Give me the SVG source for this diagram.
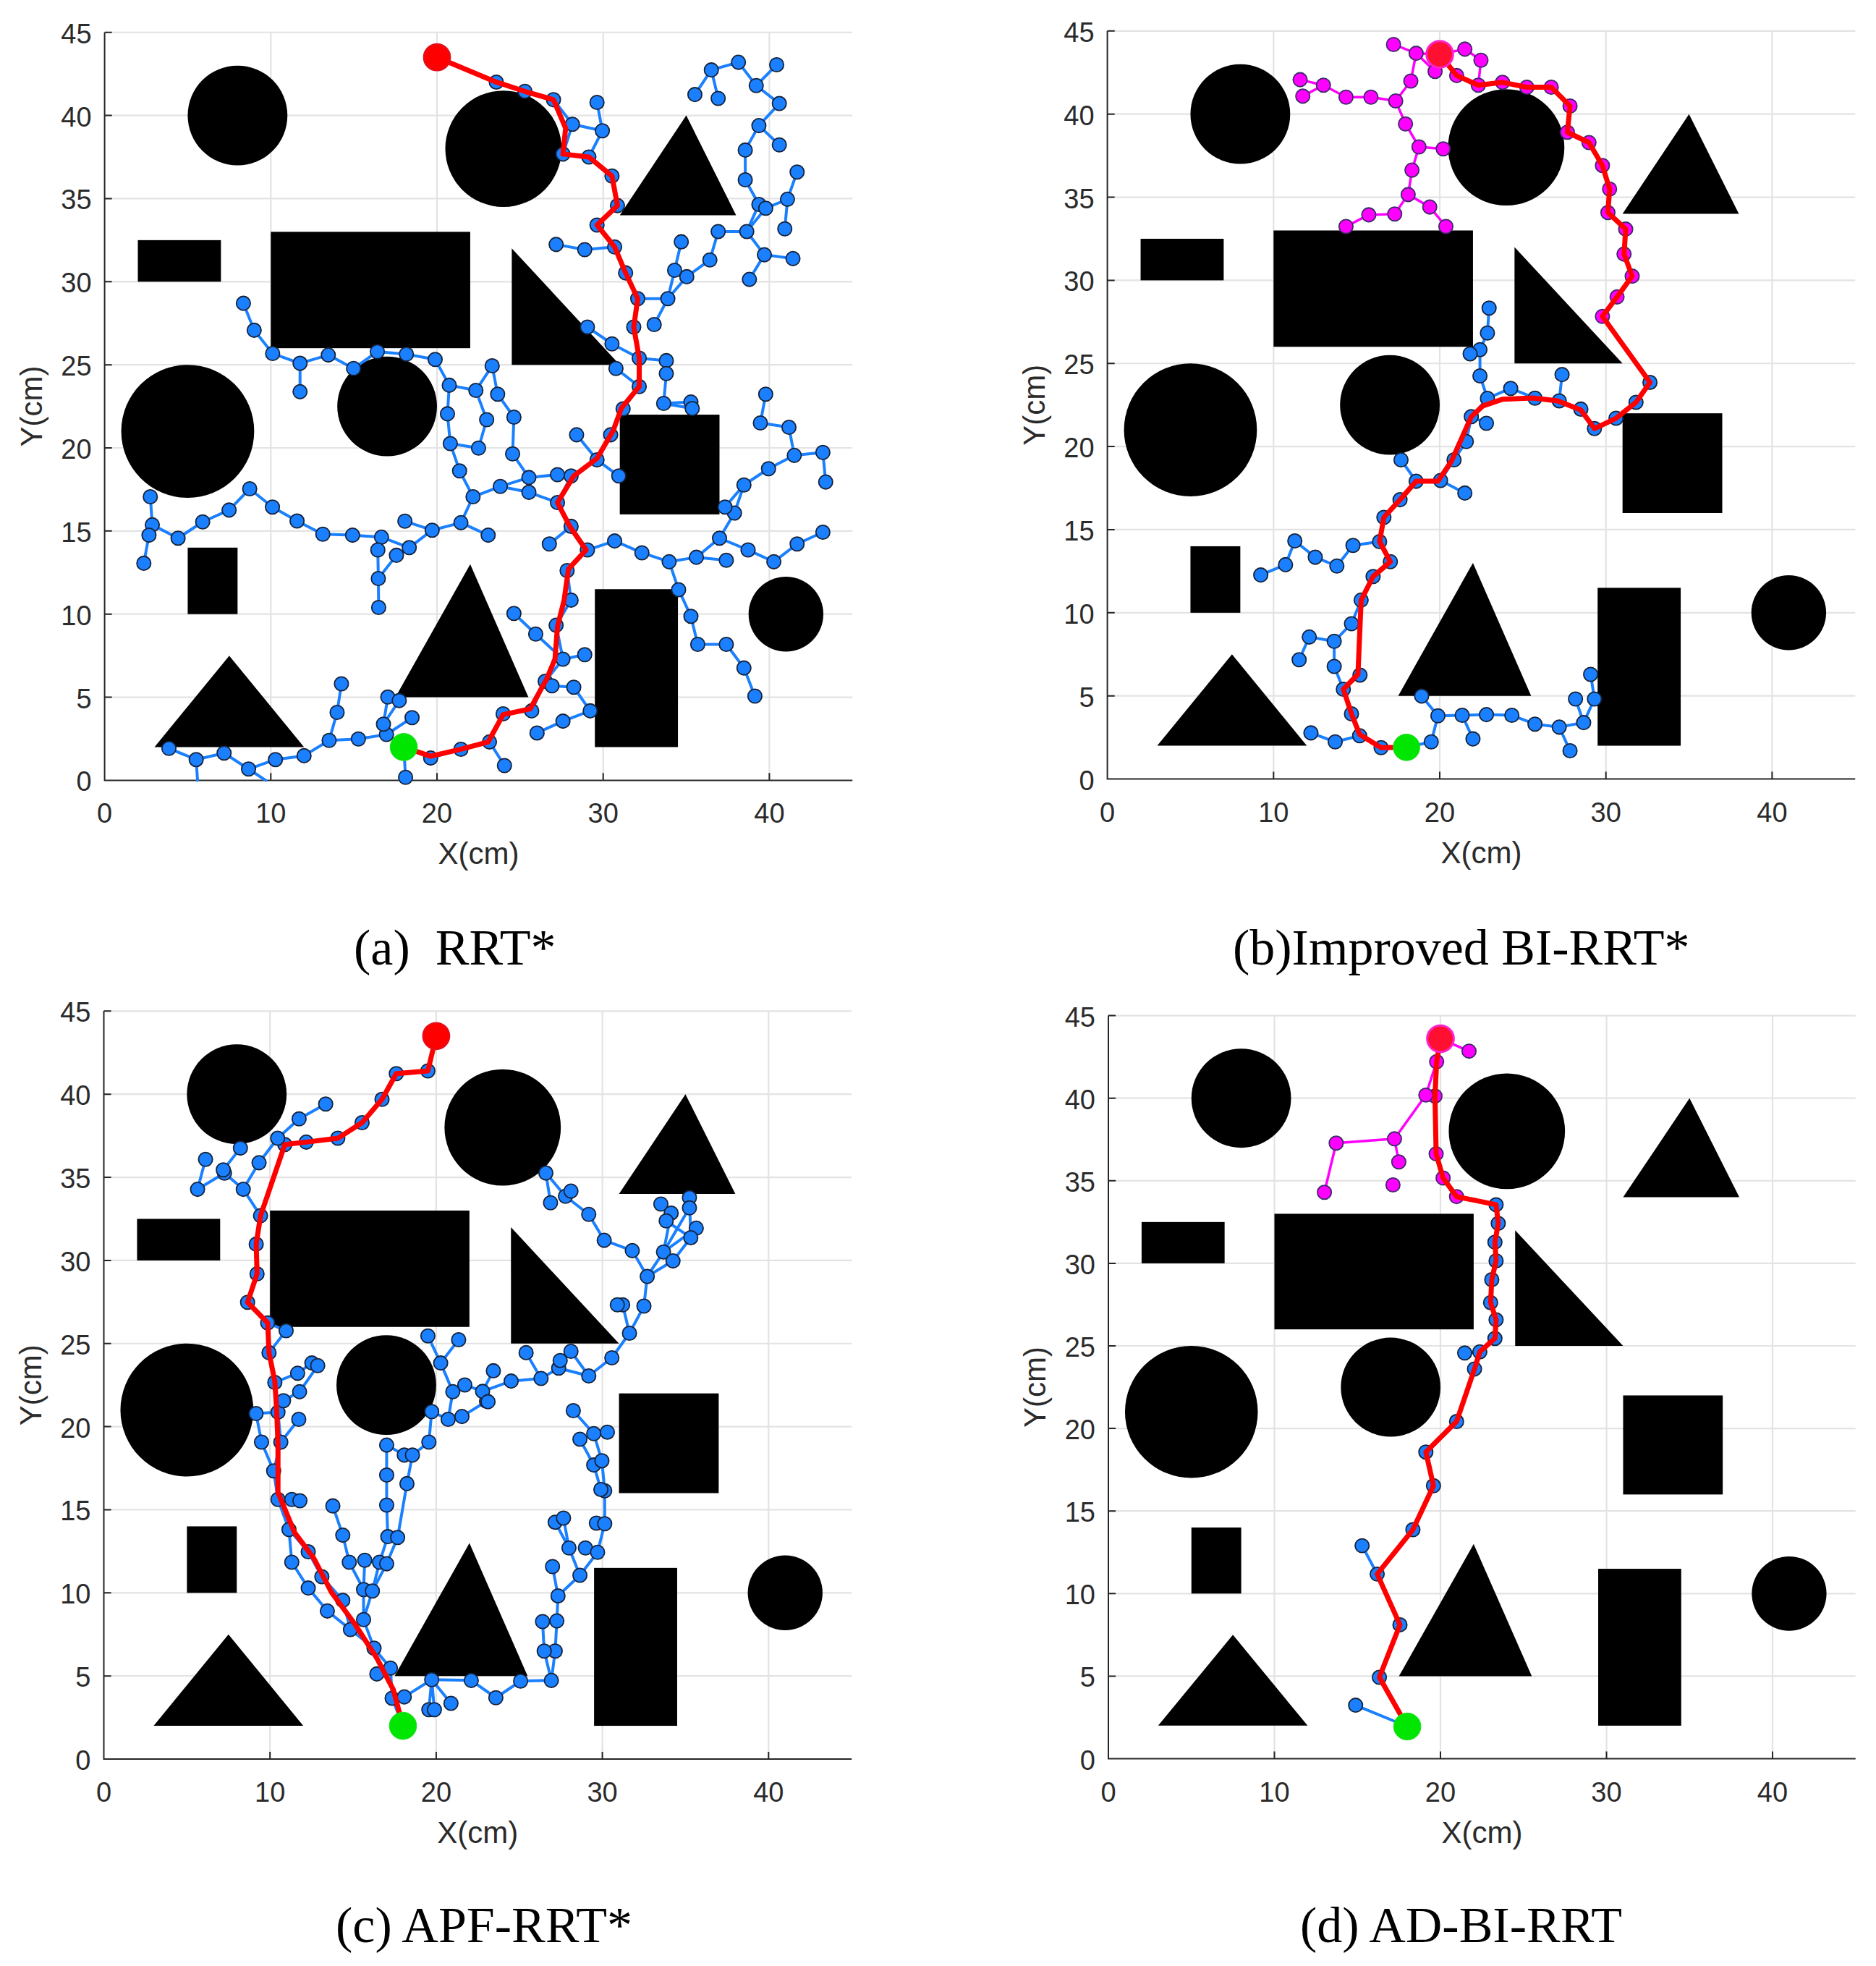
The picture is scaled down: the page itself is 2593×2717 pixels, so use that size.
<svg xmlns="http://www.w3.org/2000/svg" xmlns:xlink="http://www.w3.org/1999/xlink" width="2593" height="2717" viewBox="0 0 2593 2717">
<style>
.g{fill:none;stroke:#e3e3e3;stroke-width:2.2;vector-effect:non-scaling-stroke}
.a{fill:none;stroke:#262626;stroke-width:2;vector-effect:non-scaling-stroke}
.e{fill:none;stroke:#1a80ff;stroke-width:4;stroke-linejoin:round;stroke-linecap:round;vector-effect:non-scaling-stroke}
.em{fill:none;stroke:#ff00ff;stroke-width:3.5;stroke-linejoin:round;stroke-linecap:round;vector-effect:non-scaling-stroke}
.n circle{fill:#1a80ff;stroke:#15223a;stroke-width:1.8;vector-effect:non-scaling-stroke}
.m circle{fill:#ff00ff;stroke:#3d2a66;stroke-width:1.8;vector-effect:non-scaling-stroke}
.p{fill:none;stroke:#ff0000;stroke-width:7;stroke-linejoin:round;stroke-linecap:round;vector-effect:non-scaling-stroke}
.goal{fill:#ff0000;stroke:#e0101e;stroke-width:2;vector-effect:non-scaling-stroke}
.goal2{fill:#ff1030;stroke:#ff22cc;stroke-width:3;vector-effect:non-scaling-stroke}
.st{fill:#00e600;stroke:#22dd22;stroke-width:1;vector-effect:non-scaling-stroke}
.t{font-family:"Liberation Sans",Arial,Helvetica,sans-serif;font-size:38px;fill:#2b2b2b}
.yt{text-anchor:end}
.xt{text-anchor:middle}
.lab{font-family:"Liberation Sans",Arial,Helvetica,sans-serif;font-size:42px;fill:#2b2b2b;text-anchor:middle}
.cap{font-family:"Liberation Serif","Times New Roman",serif;font-size:70px;fill:#000}
</style>
<defs>
<g id="frame">
<path class="g" d="M10 0V45M20 0V45M30 0V45M40 0V45M0 5H45M0 10H45M0 15H45M0 20H45M0 25H45M0 30H45M0 35H45M0 40H45M0 45H45"/>
<path class="a" d="M0 45V0H45M0 5H.44M0 10H.44M0 15H.44M0 20H.44M0 25H.44M0 30H.44M0 35H.44M0 40H.44M0 45H.44M10 0V.44M20 0V.44M30 0V.44M40 0V.44"/>
</g>
<g id="obs" fill="#000">
<circle cx="8" cy="40" r="3"/>
<circle cx="24" cy="38" r="3.5"/>
<polygon points="31,34 38,34 35,40"/>
<rect x="2" y="30" width="5" height="2.5"/>
<rect x="10" y="26" width="12" height="7"/>
<polygon points="24.5,32 24.5,25 31,25"/>
<circle cx="5" cy="21" r="4"/>
<circle cx="17" cy="22.5" r="3"/>
<rect x="31" y="16" width="6" height="6"/>
<rect x="5" y="10" width="3" height="4"/>
<polygon points="3,2 12,2 7.5,7.5"/>
<polygon points="17.5,5 25.5,5 22,13"/>
<rect x="29.5" y="2" width="5" height="9.5"/>
<circle cx="41" cy="10" r="2.25"/>
</g>
</defs>
<rect width="2593" height="2717" fill="#fff"/>

<!-- ===== Plot (a) RRT* ===== -->
<g id="plot-a">
<g transform="translate(144.6,1078.4) scale(22.97,-22.97)">
<use href="#frame"/>
<use href="#obs"/>
<g id="a-edges">
<path class="e" d="M8.35 28.7L9 27.08L10.11 25.68L11.76 25.09L13.46 25.59L14.98 24.78L16.41 25.79L18.16 25.64L19.89 25.32L20.74 23.77L20.63 22.05L20.8 20.26L21.36 18.62L22.17 17.06L21.44 15.5L23.08 14.75
M11.76 25.09L11.76 23.38
M21.44 15.5L19.71 15.05L18.33 14L16.66 14.63L14.92 14.75L13.13 14.81L11.58 15.6L10.1 16.44L8.73 17.54L7.49 16.26L5.9 15.55L4.42 14.57L2.87 15.37L2.75 17.06
M2.87 15.37L2.67 14.75L2.36 13.06
M19.71 15.05L18.07 15.59
M18.33 14L17.56 13.54L16.47 12.14L16.49 10.4
M16.66 14.63L16.44 13.86L16.47 12.14
M3.87 1.92L5.51 1.25L7.19 1.64L8.66 .68L10.28 1.25L12 1.48L13.51 2.4L13.99 4.09L14.25 5.81
M5.51 1.25L5.59 0M8.66 .68L9.69 0
M13.51 2.4L15.27 2.49L16.96 2.76L16.78 3.38L17.04 5.01
M16.78 3.38L17.73 4.8M16.96 2.76L18.5 3.77M16.96 2.76L18 2L18.11 .18
M18 2L19.62 1.34L21.44 1.87L23.16 2.31L23.98 4L25.7 4.18L26.51 5.96L27.58 7.29L27.17 9.33L28.07 10.84L27.83 12.62L29.05 13.86L28.07 15.28L27.25 16.71L28.07 18.31L29.63 19.28L30.45 20.79L31.2 22.35L32.17 23.69L32.17 25.4L31.84 27.27L32.08 28.98L31.35 30.53L30.69 32.09L29.63 33.41L30.86 34.58L30.53 36.36L29.14 37.5L27.58 37.68L28.15 39.47L27.01 40.95L25.29 41.45L23.57 42.01
M23.16 2.31L24.06 .89
M28.15 39.47L29.95 39.08L29.63 40.79M29.95 39.08L29.14 37.5
M27.17 32.24L28.89 31.93L30.69 32.09
M32.08 28.98L33.89 28.98L34.3 30.69L34.7 32.4M33.89 28.98L33.07 27.42
M33.89 28.98L35.03 30.3L36.42 31.31L36.92 33.02L38.64 33.02L39.37 34.65L38.55 36.13L38.55 37.92L39.37 39.39L40.6 40.72L39.21 41.8L38.14 43.2L36.51 42.74L35.52 41.26
M36.51 42.74L36.92 41.03M39.21 41.8L40.44 43.05M39.37 39.39L40.6 38.23
M38.64 33.02L39.7 31.62L41.42 31.39M39.7 31.62L38.8 30.14
M38.64 33.02L39.78 34.42L41.09 34.96L41.67 36.6M41.09 34.96L40.93 33.18
M29.05 27.27L30.53 26.26L32.17 25.4L33.8 25.25L33.8 24.47L33.64 22.68L35.28 22.76M33.64 22.68L35.36 22.37
M30.77 24.78L32.17 23.69
M39.78 23.23L39.46 21.5L41.18 21.24L41.5 19.55L43.22 19.73L43.39 17.95
M41.5 19.55L39.95 18.75L38.47 17.77L37.9 16.08L37 14.57L35.61 13.42L33.97 13.15L32.33 13.69L30.69 14.4L29.05 13.86
M38.47 17.77L37.33 16.44M35.61 13.42L37.41 13.24
M37 14.57L38.72 13.86L40.27 13.15L41.67 14.22L43.22 14.93
M33.97 13.15L34.54 11.47L35.28 9.87L35.69 8.18L37.41 8.18L38.47 6.76L39.13 5.07
M24.63 10.04L25.94 8.8L27.58 7.29L28.89 7.56
M26.51 5.96L26.92 5.69L28.23 5.6L29.22 4.18L27.58 3.56L26.02 2.85
M29.63 19.28L28.4 20.79M29.63 19.28L30.94 18.31M28.07 15.28L26.76 14.22
M20.74 23.77L22.34 23.46L23.32 24.94L23.65 23.23L24.63 21.85L24.55 19.64L25.53 18.22L27.25 18.39
M22.34 23.46L22.99 21.7L22.5 19.99L20.8 20.26
M25.53 18.22L23.81 17.68L22.17 17.06M23.81 17.68L25.53 17.33L27.25 16.71"/>
</g>
<g id="a-nodes" class="n">
<circle cx="8.35" cy="28.7" r=".42"/><circle cx="9" cy="27.08" r=".42"/><circle cx="10.11" cy="25.68" r=".42"/><circle cx="11.76" cy="25.09" r=".42"/><circle cx="11.76" cy="23.38" r=".42"/><circle cx="13.46" cy="25.59" r=".42"/><circle cx="14.98" cy="24.78" r=".42"/><circle cx="16.41" cy="25.79" r=".42"/><circle cx="18.16" cy="25.64" r=".42"/><circle cx="19.89" cy="25.32" r=".42"/><circle cx="20.74" cy="23.77" r=".42"/><circle cx="20.63" cy="22.05" r=".42"/><circle cx="20.8" cy="20.26" r=".42"/><circle cx="21.36" cy="18.62" r=".42"/><circle cx="22.17" cy="17.06" r=".42"/><circle cx="21.44" cy="15.5" r=".42"/><circle cx="23.08" cy="14.75" r=".42"/><circle cx="19.71" cy="15.05" r=".42"/><circle cx="18.07" cy="15.59" r=".42"/><circle cx="18.33" cy="14" r=".42"/><circle cx="17.56" cy="13.54" r=".42"/><circle cx="16.66" cy="14.63" r=".42"/><circle cx="16.44" cy="13.86" r=".42"/><circle cx="16.47" cy="12.14" r=".42"/><circle cx="16.49" cy="10.4" r=".42"/><circle cx="14.92" cy="14.75" r=".42"/><circle cx="13.13" cy="14.81" r=".42"/><circle cx="11.58" cy="15.6" r=".42"/><circle cx="10.1" cy="16.44" r=".42"/><circle cx="8.73" cy="17.54" r=".42"/><circle cx="7.49" cy="16.26" r=".42"/><circle cx="5.9" cy="15.55" r=".42"/><circle cx="4.42" cy="14.57" r=".42"/><circle cx="2.87" cy="15.37" r=".42"/><circle cx="2.67" cy="14.75" r=".42"/><circle cx="2.75" cy="17.06" r=".42"/><circle cx="2.36" cy="13.06" r=".42"/>
<circle cx="3.87" cy="1.92" r=".42"/><circle cx="5.51" cy="1.25" r=".42"/><circle cx="7.19" cy="1.64" r=".42"/><circle cx="8.66" cy=".68" r=".42"/><circle cx="10.28" cy="1.25" r=".42"/><circle cx="12" cy="1.48" r=".42"/><circle cx="13.51" cy="2.4" r=".42"/><circle cx="13.99" cy="4.09" r=".42"/><circle cx="14.25" cy="5.81" r=".42"/><circle cx="15.27" cy="2.49" r=".42"/><circle cx="16.96" cy="2.76" r=".42"/><circle cx="16.78" cy="3.38" r=".42"/><circle cx="17.04" cy="5.01" r=".42"/><circle cx="17.73" cy="4.8" r=".42"/><circle cx="18.5" cy="3.77" r=".42"/><circle cx="18.11" cy=".18" r=".42"/><circle cx="19.62" cy="1.34" r=".42"/><circle cx="21.44" cy="1.87" r=".42"/><circle cx="23.16" cy="2.31" r=".42"/><circle cx="24.06" cy=".89" r=".42"/>
<circle cx="23.98" cy="4" r=".42"/><circle cx="25.7" cy="4.18" r=".42"/><circle cx="26.51" cy="5.96" r=".42"/><circle cx="27.58" cy="7.29" r=".42"/><circle cx="27.17" cy="9.33" r=".42"/><circle cx="28.07" cy="10.84" r=".42"/><circle cx="27.83" cy="12.62" r=".42"/><circle cx="29.05" cy="13.86" r=".42"/><circle cx="28.07" cy="15.28" r=".42"/><circle cx="27.25" cy="16.71" r=".42"/><circle cx="28.07" cy="18.31" r=".42"/><circle cx="29.63" cy="19.28" r=".42"/><circle cx="30.45" cy="20.79" r=".42"/><circle cx="31.2" cy="22.35" r=".42"/><circle cx="32.17" cy="23.69" r=".42"/><circle cx="32.17" cy="25.4" r=".42"/><circle cx="31.84" cy="27.27" r=".42"/><circle cx="32.08" cy="28.98" r=".42"/><circle cx="31.35" cy="30.53" r=".42"/><circle cx="30.69" cy="32.09" r=".42"/><circle cx="29.63" cy="33.41" r=".42"/><circle cx="30.86" cy="34.58" r=".42"/><circle cx="30.53" cy="36.36" r=".42"/><circle cx="29.14" cy="37.5" r=".42"/><circle cx="27.58" cy="37.68" r=".42"/><circle cx="28.15" cy="39.47" r=".42"/><circle cx="27.01" cy="40.95" r=".42"/><circle cx="25.29" cy="41.45" r=".42"/><circle cx="23.57" cy="42.01" r=".42"/>
<circle cx="29.95" cy="39.08" r=".42"/><circle cx="29.63" cy="40.79" r=".42"/><circle cx="27.17" cy="32.24" r=".42"/><circle cx="28.89" cy="31.93" r=".42"/><circle cx="33.89" cy="28.98" r=".42"/><circle cx="34.3" cy="30.69" r=".42"/><circle cx="34.7" cy="32.4" r=".42"/><circle cx="33.07" cy="27.42" r=".42"/><circle cx="35.03" cy="30.3" r=".42"/><circle cx="36.42" cy="31.31" r=".42"/><circle cx="36.92" cy="33.02" r=".42"/><circle cx="38.64" cy="33.02" r=".42"/><circle cx="39.37" cy="34.65" r=".42"/><circle cx="38.55" cy="36.13" r=".42"/><circle cx="38.55" cy="37.92" r=".42"/><circle cx="39.37" cy="39.39" r=".42"/><circle cx="40.6" cy="40.72" r=".42"/><circle cx="39.21" cy="41.8" r=".42"/><circle cx="38.14" cy="43.2" r=".42"/><circle cx="36.51" cy="42.74" r=".42"/><circle cx="35.52" cy="41.26" r=".42"/><circle cx="36.92" cy="41.03" r=".42"/><circle cx="40.44" cy="43.05" r=".42"/><circle cx="40.6" cy="38.23" r=".42"/><circle cx="39.7" cy="31.62" r=".42"/><circle cx="41.42" cy="31.39" r=".42"/><circle cx="38.8" cy="30.14" r=".42"/><circle cx="39.78" cy="34.42" r=".42"/><circle cx="41.09" cy="34.96" r=".42"/><circle cx="41.67" cy="36.6" r=".42"/><circle cx="40.93" cy="33.18" r=".42"/>
<circle cx="29.05" cy="27.27" r=".42"/><circle cx="30.53" cy="26.26" r=".42"/><circle cx="33.8" cy="25.25" r=".42"/><circle cx="33.8" cy="24.47" r=".42"/><circle cx="30.77" cy="24.78" r=".42"/><circle cx="33.64" cy="22.68" r=".42"/><circle cx="35.28" cy="22.76" r=".42"/><circle cx="35.36" cy="22.37" r=".42"/><circle cx="39.78" cy="23.23" r=".42"/><circle cx="39.46" cy="21.5" r=".42"/><circle cx="41.18" cy="21.24" r=".42"/><circle cx="41.5" cy="19.55" r=".42"/><circle cx="43.22" cy="19.73" r=".42"/><circle cx="43.39" cy="17.95" r=".42"/><circle cx="39.95" cy="18.75" r=".42"/><circle cx="38.47" cy="17.77" r=".42"/><circle cx="37.9" cy="16.08" r=".42"/><circle cx="37.33" cy="16.44" r=".42"/><circle cx="37" cy="14.57" r=".42"/><circle cx="35.61" cy="13.42" r=".42"/><circle cx="33.97" cy="13.15" r=".42"/><circle cx="32.33" cy="13.69" r=".42"/><circle cx="30.69" cy="14.4" r=".42"/><circle cx="37.41" cy="13.24" r=".42"/><circle cx="38.72" cy="13.86" r=".42"/><circle cx="40.27" cy="13.15" r=".42"/><circle cx="41.67" cy="14.22" r=".42"/><circle cx="43.22" cy="14.93" r=".42"/><circle cx="34.54" cy="11.47" r=".42"/><circle cx="35.28" cy="9.87" r=".42"/><circle cx="35.69" cy="8.18" r=".42"/><circle cx="37.41" cy="8.18" r=".42"/><circle cx="38.47" cy="6.76" r=".42"/><circle cx="39.13" cy="5.07" r=".42"/>
<circle cx="24.63" cy="10.04" r=".42"/><circle cx="25.94" cy="8.8" r=".42"/><circle cx="28.89" cy="7.56" r=".42"/><circle cx="26.92" cy="5.69" r=".42"/><circle cx="28.23" cy="5.6" r=".42"/><circle cx="29.22" cy="4.18" r=".42"/><circle cx="27.58" cy="3.56" r=".42"/><circle cx="26.02" cy="2.85" r=".42"/><circle cx="28.4" cy="20.79" r=".42"/><circle cx="30.94" cy="18.31" r=".42"/><circle cx="26.76" cy="14.22" r=".42"/><circle cx="23.32" cy="24.94" r=".42"/><circle cx="22.34" cy="23.46" r=".42"/><circle cx="23.65" cy="23.23" r=".42"/><circle cx="24.63" cy="21.85" r=".42"/><circle cx="22.99" cy="21.7" r=".42"/><circle cx="22.5" cy="19.99" r=".42"/><circle cx="24.55" cy="19.64" r=".42"/><circle cx="25.53" cy="18.22" r=".42"/><circle cx="27.25" cy="18.39" r=".42"/><circle cx="23.81" cy="17.68" r=".42"/><circle cx="25.53" cy="17.33" r=".42"/>
</g>
<path id="a-path" class="p" d="M18 2L19.62 1.45L21.44 1.87L23.08 2.31L23.98 3.95L25.61 4.3L26.6 6.1L27.1 7.29L27.25 9.24L27.65 10.84L27.91 12.71L28.97 13.86L27.99 15.28L27.25 16.71L28.23 18.31L29.63 19.37L30.61 21.06L31.1 22.4L32.17 23.69L32.17 25.4L31.84 27.27L32.08 28.98L31.35 30.53L30.69 32.09L29.63 33.41L30.86 34.58L30.53 36.36L29.14 37.5L27.58 37.68L27.74 39.24L27.01 40.95L25.29 41.45L23.57 42.01L20 43.5"/>
<circle class="goal" cx="20" cy="43.5" r=".8"/>
<circle class="st" cx="18" cy="2" r=".82"/>
</g>
<g class="t" transform="translate(144.6,1078.4)">
<text class="xt" x="0" y="59">0</text><text class="xt" x="229.7" y="59">10</text><text class="xt" x="459.4" y="59">20</text><text class="xt" x="689.1" y="59">30</text><text class="xt" x="918.8" y="59">40</text>
<text class="yt" x="-18" y="15">0</text><text class="yt" x="-18" y="-99.85">5</text><text class="yt" x="-18" y="-214.7">10</text><text class="yt" x="-18" y="-329.55">15</text><text class="yt" x="-18" y="-444.4">20</text><text class="yt" x="-18" y="-559.25">25</text><text class="yt" x="-18" y="-674.1">30</text><text class="yt" x="-18" y="-788.95">35</text><text class="yt" x="-18" y="-903.8">40</text><text class="yt" x="-18" y="-1018.65">45</text>
<text class="lab" x="516.8" y="116">X(cm)</text>
<text class="lab" transform="translate(-87,-516.8) rotate(-90)">Y(cm)</text>
</g>
</g>

<!-- ===== Plot (b) Improved BI-RRT* ===== -->
<g id="plot-b">
<g transform="translate(1530.6,1076.5) scale(22.97,-22.97)">
<use href="#frame"/>
<use href="#obs"/>
<path class="e" d="M22.97 28.33L22.87 26.83L22.42 25.83L22.42 24.25L22.87 22.9L21.9 21.8L21.6 20.3L20.86 19.2L20.05 17.96L18.58 17.91L17.61 16.8L16.64 15.74L16.38 14.28L17.03 13.07L15.99 12.18L15.27 10.76L14.69 9.34L13.65 8.28L13.65 6.77L14.2 5.4L14.69 3.92L15.18 2.6L16.47 1.88L18 1.9L19.49 2.23L19.89 3.8L21.35 3.83L22.81 3.87L24.34 3.83L25.73 3.3L27.19 3.12L28.66 3.39L29.31 4.81L29.08 6.29
M22.42 25.83L21.83 25.58
M22.87 22.9L24.27 23.5L25.73 22.91L27.19 22.75L28.49 22.25L29.31 21.08L30.61 21.7L31.81 22.66L32.65 23.86
M27.19 22.75L27.36 24.33M21.9 21.8L22.81 21.4M20.05 17.96L21.51 17.2M18.58 17.91L17.67 19.2
M13.65 8.28L12.15 8.54L11.54 7.17M14.2 5.4L15.2 6.25M15.18 2.6L13.71 2.23L12.25 2.77
M16.38 14.28L14.78 14.05L13.81 12.81L12.51 13.34L11.28 14.32L10.72 12.89L9.23 12.27
M19.89 3.8L18.91 4.99M21.35 3.83L22 2.41M27.19 3.12L27.84 1.7M28.66 3.39L28.17 4.81"/>
<path class="em" d="M20 43.6L18.58 43.66L17.22 44.19M18.58 43.66L19.72 42.57L20 43.6
M18.58 43.66L18.26 41.99L17.35 40.79L15.86 41.02L14.36 41.02L13 41.74L11.6 42.07M13 41.74L11.76 41.08
M17.35 40.79L17.94 39.41L18.75 38.03L20.21 37.91M18.75 38.03L18.33 36.63L18.1 35.16L17.29 33.99L15.73 33.94L14.36 33.24M18.1 35.16L19.4 34.41L20.37 33.24
M20 43.6L21.51 43.91L22.48 43.24L22.32 41.74
M20 43.6L21.02 42.32L22.32 41.74L23.78 41.91L25.24 41.62L26.71 41.62L27.84 40.49L27.68 38.91L28.98 38.29L29.79 36.91L30.22 35.49L30.12 34.08L31.19 33.08L31.09 31.58L31.58 30.25L30.67 29L29.79 27.83"/>
<g id="b-nodes" class="n">
<circle cx="22.97" cy="28.33" r=".42"/><circle cx="22.87" cy="26.83" r=".42"/><circle cx="22.42" cy="25.83" r=".42"/><circle cx="21.83" cy="25.58" r=".42"/><circle cx="22.42" cy="24.25" r=".42"/><circle cx="22.87" cy="22.9" r=".42"/><circle cx="24.27" cy="23.5" r=".42"/><circle cx="25.73" cy="22.91" r=".42"/><circle cx="27.19" cy="22.75" r=".42"/><circle cx="27.36" cy="24.33" r=".42"/><circle cx="28.49" cy="22.25" r=".42"/><circle cx="29.31" cy="21.08" r=".42"/><circle cx="30.61" cy="21.7" r=".42"/><circle cx="31.81" cy="22.66" r=".42"/><circle cx="32.65" cy="23.86" r=".42"/><circle cx="21.9" cy="21.8" r=".42"/><circle cx="22.81" cy="21.4" r=".42"/><circle cx="21.6" cy="20.3" r=".42"/><circle cx="20.86" cy="19.2" r=".42"/><circle cx="20.05" cy="17.96" r=".42"/><circle cx="18.58" cy="17.91" r=".42"/><circle cx="21.51" cy="17.2" r=".42"/><circle cx="17.67" cy="19.2" r=".42"/><circle cx="17.61" cy="16.8" r=".42"/><circle cx="16.64" cy="15.74" r=".42"/><circle cx="16.38" cy="14.28" r=".42"/><circle cx="17.03" cy="13.07" r=".42"/><circle cx="15.99" cy="12.18" r=".42"/><circle cx="15.27" cy="10.76" r=".42"/><circle cx="14.69" cy="9.34" r=".42"/><circle cx="13.65" cy="8.28" r=".42"/><circle cx="12.15" cy="8.54" r=".42"/><circle cx="11.54" cy="7.17" r=".42"/><circle cx="13.65" cy="6.77" r=".42"/><circle cx="15.2" cy="6.25" r=".42"/><circle cx="14.2" cy="5.4" r=".42"/><circle cx="14.69" cy="3.92" r=".42"/><circle cx="15.18" cy="2.6" r=".42"/><circle cx="16.47" cy="1.88" r=".42"/><circle cx="13.71" cy="2.23" r=".42"/><circle cx="12.25" cy="2.77" r=".42"/><circle cx="14.78" cy="14.05" r=".42"/><circle cx="13.81" cy="12.81" r=".42"/><circle cx="12.51" cy="13.34" r=".42"/><circle cx="11.28" cy="14.32" r=".42"/><circle cx="10.72" cy="12.89" r=".42"/><circle cx="9.23" cy="12.27" r=".42"/><circle cx="19.49" cy="2.23" r=".42"/><circle cx="19.89" cy="3.8" r=".42"/><circle cx="18.91" cy="4.99" r=".42"/><circle cx="21.35" cy="3.83" r=".42"/><circle cx="22" cy="2.41" r=".42"/><circle cx="22.81" cy="3.87" r=".42"/><circle cx="24.34" cy="3.83" r=".42"/><circle cx="25.73" cy="3.3" r=".42"/><circle cx="27.19" cy="3.12" r=".42"/><circle cx="27.84" cy="1.7" r=".42"/><circle cx="28.66" cy="3.39" r=".42"/><circle cx="28.17" cy="4.81" r=".42"/><circle cx="29.31" cy="4.81" r=".42"/><circle cx="29.08" cy="6.29" r=".42"/>
</g>
<g id="b-mnodes" class="m">
<circle cx="17.22" cy="44.19" r=".42"/><circle cx="18.58" cy="43.66" r=".42"/><circle cx="19.72" cy="42.57" r=".42"/><circle cx="18.26" cy="41.99" r=".42"/><circle cx="17.35" cy="40.79" r=".42"/><circle cx="15.86" cy="41.02" r=".42"/><circle cx="14.36" cy="41.02" r=".42"/><circle cx="13" cy="41.74" r=".42"/><circle cx="11.6" cy="42.07" r=".42"/><circle cx="11.76" cy="41.08" r=".42"/><circle cx="17.94" cy="39.41" r=".42"/><circle cx="18.75" cy="38.03" r=".42"/><circle cx="20.21" cy="37.91" r=".42"/><circle cx="18.33" cy="36.63" r=".42"/><circle cx="18.1" cy="35.16" r=".42"/><circle cx="17.29" cy="33.99" r=".42"/><circle cx="15.73" cy="33.94" r=".42"/><circle cx="14.36" cy="33.24" r=".42"/><circle cx="19.4" cy="34.41" r=".42"/><circle cx="20.37" cy="33.24" r=".42"/><circle cx="21.51" cy="43.91" r=".42"/><circle cx="22.48" cy="43.24" r=".42"/><circle cx="21.02" cy="42.32" r=".42"/><circle cx="22.32" cy="41.74" r=".42"/><circle cx="23.78" cy="41.91" r=".42"/><circle cx="25.24" cy="41.62" r=".42"/><circle cx="26.71" cy="41.62" r=".42"/><circle cx="27.84" cy="40.49" r=".42"/><circle cx="27.68" cy="38.91" r=".42"/><circle cx="28.98" cy="38.29" r=".42"/><circle cx="29.79" cy="36.91" r=".42"/><circle cx="30.22" cy="35.49" r=".42"/><circle cx="30.12" cy="34.08" r=".42"/><circle cx="31.19" cy="33.08" r=".42"/><circle cx="31.09" cy="31.58" r=".42"/><circle cx="31.58" cy="30.25" r=".42"/><circle cx="30.67" cy="29" r=".42"/><circle cx="29.79" cy="27.83" r=".42"/>
</g>
<path id="b-path" class="p" d="M18 1.9L16.47 1.88L15.18 2.68L14.69 3.92L14.2 5.4L15.08 6.3L15.27 10.76L15.99 12.18L17.03 13.07L16.38 14.28L16.64 15.74L17.61 16.8L18.58 17.91L19.89 17.91L20.7 19.11L21.18 20.18L21.9 21.8L22.6 22.45L23.8 22.85L25.6 22.92L27.1 22.75L28.49 22.2L29.31 21.08L30.61 21.7L31.81 22.66L32.65 23.86L29.79 27.83L30.67 29L31.58 30.25L31.09 31.58L31.19 33.08L30.12 34.08L30.22 35.49L29.79 36.91L28.98 38.29L27.68 38.91L27.84 40.49L26.71 41.62L25.24 41.62L23.78 41.91L22.32 41.74L21.02 42.32L20 43.6"/>
<circle class="goal2" cx="20" cy="43.6" r=".8"/>
<circle class="st" cx="18" cy="1.9" r=".8"/>
</g>
<g class="t" transform="translate(1530.6,1076.5)">
<text class="xt" x="0" y="59">0</text><text class="xt" x="229.7" y="59">10</text><text class="xt" x="459.4" y="59">20</text><text class="xt" x="689.1" y="59">30</text><text class="xt" x="918.8" y="59">40</text>
<text class="yt" x="-18" y="15">0</text><text class="yt" x="-18" y="-99.85">5</text><text class="yt" x="-18" y="-214.7">10</text><text class="yt" x="-18" y="-329.55">15</text><text class="yt" x="-18" y="-444.4">20</text><text class="yt" x="-18" y="-559.25">25</text><text class="yt" x="-18" y="-674.1">30</text><text class="yt" x="-18" y="-788.95">35</text><text class="yt" x="-18" y="-903.8">40</text><text class="yt" x="-18" y="-1018.65">45</text>
<text class="lab" x="516.8" y="116">X(cm)</text>
<text class="lab" transform="translate(-87,-516.8) rotate(-90)">Y(cm)</text>
</g>
</g>

<!-- ===== Plot (c) APF-RRT* ===== -->
<g id="plot-c">
<g transform="translate(143.5,2431) scale(22.97,-22.97)">
<use href="#frame"/>
<use href="#obs"/>
<path class="e" d="M18 2L17.35 3.66L17.25 5.47L16.26 6.67L14.84 7.79L14.38 9.55L13.12 10.97L12.3 12.47L11.14 13.81L10.48 15.62L10.22 17.34L10.65 19.07L10.48 20.87L10.29 22.66L9.94 24.45L9.86 26.24L8.65 27.48L9.22 29.19L9.17 30.98L9.43 32.69L8.39 34.28L9.34 35.88L10.46 37.35L10.89 36.97L12.18 37.12L14.08 37.35L15.54 38.29L16.74 39.69L17.6 41.24L19.5 41.4
M8.39 34.28L7.26 35.25L5.64 34.28L6.12 36.08M7.26 35.25L7.19 35.45L8.22 36.76M10.46 37.35L11.75 38.52L13.35 39.41
M9.86 26.24L10.97 25.77L9.94 24.45M10.29 22.66L11.66 23.21L12.52 23.83
M12.87 23.67L11.78 22.1L10.81 21.56L10.48 20.87L9.16 20.79L9.49 19.07L10.22 17.34M10.65 19.07L11.73 20.44
M10.48 15.62L11.31 15.62M10.48 15.62L11.8 15.54
M11.14 13.81L11.31 11.84L12.3 10.29L13.45 8.91L14.84 7.79M17.25 5.47L16.43 5.12
M17.35 3.66L18.08 3.74L19.73 4.78L19.56 2.97M19.73 4.78L19.89 2.97M19.73 4.78L20.89 3.35
M19.73 4.78L22.11 4.73L23.59 3.69L25.08 4.69L26.93 4.73L27.16 6.5L27.26 8.31L27.33 9.82L28.65 11.06L29.71 12.44L30.14 14.16L30.14 16.14L29.97 17.95L29.48 19.58L28.25 20.96
M26.93 4.73L26.5 6.5L26.4 8.27M27.33 9.82L27 11.58M28.65 11.06L27.99 12.7L27.16 14.25M27.99 12.7L27.66 14.5M29.71 12.44L28.98 12.7M30.14 14.16L29.64 14.19
M30.14 16.14L29.91 16.22L29.48 17.69L28.65 19.24M29.48 19.58L30.3 19.67
M16.26 6.67L15.63 8.39L15.63 10.2L14.77 11.84L14.38 13.47L13.78 15.23M15.63 10.2L15.7 11.96
M15.63 8.39L16.16 10.11L16.59 11.84L17.09 13.38L17.02 15.28L17.02 17.09L17.02 18.89L18.08 18.29
M16.16 10.11L17.02 11.75L17.68 13.33L18.24 16.57L18.57 18.29L19.56 19.07L19.73 20.91L20.72 20.44L21 22.1L20.27 23.83L19.5 25.46M20.27 23.83L21.35 25.23M20.72 20.44L21.55 20.61L23.03 21.53
M21 22.1L21.72 22.51L22.79 22.12L23.44 23.36M22.79 22.12L23.12 21.5
M22.79 22.12L24.51 22.74L26.31 22.9L25.41 24.45M26.31 22.9L27.37 23.52L29.18 23.05L28.11 24.53L27.46 23.98L27.37 23.52
M29.18 23.05L30.57 24.14L31.63 25.62L32.5 27.25L32.7 29.04L31.8 30.59L30.11 31.21L29.18 32.77L27.78 33.86L26.6 35.26L26.88 33.47M27.78 33.86L28.11 34.17
M31.63 25.62L31.22 27.33L30.9 27.33
M32.7 29.04L33.68 30.51L35.24 33.16L35.24 33.78M33.68 30.51L35.65 31.94M33.68 30.51L34.14 32.85L33.52 33.39M32.7 29.04L34.25 29.97L35.32 31.37L35.24 33.78M33.84 32.38L35.32 31.37"/>
<g id="c-nodes" class="n">
<circle cx="19.5" cy="41.4" r=".42"/><circle cx="17.6" cy="41.24" r=".42"/><circle cx="16.74" cy="39.69" r=".42"/><circle cx="15.54" cy="38.29" r=".42"/><circle cx="14.08" cy="37.35" r=".42"/><circle cx="12.18" cy="37.12" r=".42"/><circle cx="10.89" cy="36.97" r=".42"/><circle cx="9.43" cy="32.69" r=".42"/><circle cx="9.17" cy="30.98" r=".42"/><circle cx="9.22" cy="29.19" r=".42"/><circle cx="8.65" cy="27.48" r=".42"/><circle cx="9.86" cy="26.24" r=".42"/><circle cx="9.94" cy="24.45" r=".42"/><circle cx="10.29" cy="22.66" r=".42"/>
<circle cx="10.46" cy="37.35" r=".42"/><circle cx="11.75" cy="38.52" r=".42"/><circle cx="13.35" cy="39.41" r=".42"/><circle cx="9.34" cy="35.88" r=".42"/><circle cx="8.39" cy="34.28" r=".42"/><circle cx="7.26" cy="35.25" r=".42"/><circle cx="7.19" cy="35.45" r=".42"/><circle cx="8.22" cy="36.76" r=".42"/><circle cx="5.64" cy="34.28" r=".42"/><circle cx="6.12" cy="36.08" r=".42"/>
<circle cx="10.97" cy="25.77" r=".42"/><circle cx="11.66" cy="23.21" r=".42"/><circle cx="12.52" cy="23.83" r=".42"/><circle cx="12.87" cy="23.67" r=".42"/><circle cx="11.78" cy="22.1" r=".42"/><circle cx="9.16" cy="20.79" r=".42"/><circle cx="10.48" cy="20.87" r=".42"/><circle cx="10.81" cy="21.56" r=".42"/><circle cx="11.73" cy="20.44" r=".42"/><circle cx="9.49" cy="19.07" r=".42"/><circle cx="10.65" cy="19.07" r=".42"/><circle cx="10.22" cy="17.34" r=".42"/><circle cx="10.48" cy="15.62" r=".42"/><circle cx="11.31" cy="15.62" r=".42"/><circle cx="11.8" cy="15.54" r=".42"/><circle cx="11.14" cy="13.81" r=".42"/><circle cx="12.3" cy="12.47" r=".42"/><circle cx="11.31" cy="11.84" r=".42"/><circle cx="12.3" cy="10.29" r=".42"/><circle cx="13.12" cy="10.97" r=".42"/><circle cx="14.38" cy="9.55" r=".42"/><circle cx="13.45" cy="8.91" r=".42"/><circle cx="14.84" cy="7.79" r=".42"/><circle cx="16.26" cy="6.67" r=".42"/><circle cx="16.43" cy="5.12" r=".42"/><circle cx="17.25" cy="5.47" r=".42"/><circle cx="17.35" cy="3.66" r=".42"/><circle cx="18.08" cy="3.74" r=".42"/>
<circle cx="13.78" cy="15.23" r=".42"/><circle cx="14.38" cy="13.47" r=".42"/><circle cx="14.77" cy="11.84" r=".42"/><circle cx="15.7" cy="11.96" r=".42"/><circle cx="16.59" cy="11.84" r=".42"/><circle cx="17.02" cy="11.75" r=".42"/><circle cx="15.63" cy="10.2" r=".42"/><circle cx="16.16" cy="10.11" r=".42"/><circle cx="15.63" cy="8.39" r=".42"/><circle cx="17.09" cy="13.38" r=".42"/><circle cx="17.68" cy="13.33" r=".42"/><circle cx="17.02" cy="15.28" r=".42"/><circle cx="17.02" cy="17.09" r=".42"/><circle cx="18.24" cy="16.57" r=".42"/><circle cx="17.02" cy="18.89" r=".42"/><circle cx="18.08" cy="18.29" r=".42"/><circle cx="18.57" cy="18.29" r=".42"/><circle cx="19.56" cy="19.07" r=".42"/><circle cx="19.73" cy="20.91" r=".42"/><circle cx="20.72" cy="20.44" r=".42"/><circle cx="21.55" cy="20.61" r=".42"/><circle cx="21" cy="22.1" r=".42"/><circle cx="23.03" cy="21.53" r=".42"/><circle cx="19.5" cy="25.46" r=".42"/><circle cx="20.27" cy="23.83" r=".42"/><circle cx="21.35" cy="25.23" r=".42"/>
<circle cx="21.72" cy="22.51" r=".42"/><circle cx="22.79" cy="22.12" r=".42"/><circle cx="23.12" cy="21.5" r=".42"/><circle cx="23.44" cy="23.36" r=".42"/><circle cx="24.51" cy="22.74" r=".42"/><circle cx="25.41" cy="24.45" r=".42"/><circle cx="26.31" cy="22.9" r=".42"/><circle cx="27.37" cy="23.52" r=".42"/><circle cx="27.46" cy="23.98" r=".42"/><circle cx="28.11" cy="24.53" r=".42"/><circle cx="29.18" cy="23.05" r=".42"/><circle cx="30.57" cy="24.14" r=".42"/><circle cx="31.63" cy="25.62" r=".42"/><circle cx="31.22" cy="27.33" r=".42"/><circle cx="30.9" cy="27.33" r=".42"/><circle cx="32.5" cy="27.25" r=".42"/><circle cx="32.7" cy="29.04" r=".42"/><circle cx="31.8" cy="30.59" r=".42"/><circle cx="30.11" cy="31.21" r=".42"/><circle cx="29.18" cy="32.77" r=".42"/><circle cx="27.78" cy="33.86" r=".42"/><circle cx="28.11" cy="34.17" r=".42"/><circle cx="26.6" cy="35.26" r=".42"/><circle cx="26.88" cy="33.47" r=".42"/><circle cx="33.68" cy="30.51" r=".42"/><circle cx="34.25" cy="29.97" r=".42"/><circle cx="33.52" cy="33.39" r=".42"/><circle cx="34.14" cy="32.85" r=".42"/><circle cx="33.84" cy="32.38" r=".42"/><circle cx="35.24" cy="33.78" r=".42"/><circle cx="35.24" cy="33.16" r=".42"/><circle cx="35.65" cy="31.94" r=".42"/><circle cx="35.32" cy="31.37" r=".42"/>
<circle cx="19.73" cy="4.78" r=".42"/><circle cx="19.56" cy="2.97" r=".42"/><circle cx="19.89" cy="2.97" r=".42"/><circle cx="20.89" cy="3.35" r=".42"/><circle cx="22.11" cy="4.73" r=".42"/><circle cx="23.59" cy="3.69" r=".42"/><circle cx="25.08" cy="4.69" r=".42"/><circle cx="26.93" cy="4.73" r=".42"/><circle cx="27.16" cy="6.5" r=".42"/><circle cx="26.5" cy="6.5" r=".42"/><circle cx="26.4" cy="8.27" r=".42"/><circle cx="27.26" cy="8.31" r=".42"/><circle cx="27.33" cy="9.82" r=".42"/><circle cx="27" cy="11.58" r=".42"/><circle cx="28.65" cy="11.06" r=".42"/><circle cx="27.99" cy="12.7" r=".42"/><circle cx="28.98" cy="12.7" r=".42"/><circle cx="29.71" cy="12.44" r=".42"/><circle cx="27.16" cy="14.25" r=".42"/><circle cx="27.66" cy="14.5" r=".42"/><circle cx="29.64" cy="14.19" r=".42"/><circle cx="30.14" cy="14.16" r=".42"/><circle cx="30.14" cy="16.14" r=".42"/><circle cx="29.91" cy="16.22" r=".42"/><circle cx="29.48" cy="17.69" r=".42"/><circle cx="29.97" cy="17.95" r=".42"/><circle cx="28.65" cy="19.24" r=".42"/><circle cx="29.48" cy="19.58" r=".42"/><circle cx="30.3" cy="19.67" r=".42"/><circle cx="28.25" cy="20.96" r=".42"/>
</g>
<path id="c-path" class="p" d="M18 2L17.42 4.17L16.43 6.07L15.1 8.13L13.7 10.03L12.63 12.09L11.47 13.64L10.48 16.05L10.48 18.98L10.4 21L10.29 22.74L9.94 24.45L9.86 26.24L8.65 27.48L9.22 29.19L9.17 30.98L9.43 32.69L10.89 36.97L12.18 37.12L14.08 37.35L15.54 38.29L16.74 39.69L17.6 41.24L19.5 41.4L20 43.5"/>
<circle class="goal" cx="20" cy="43.5" r=".8"/>
<circle class="st" cx="18" cy="2" r=".82"/>
</g>
<g class="t" transform="translate(143.5,2431)">
<text class="xt" x="0" y="59">0</text><text class="xt" x="229.7" y="59">10</text><text class="xt" x="459.4" y="59">20</text><text class="xt" x="689.1" y="59">30</text><text class="xt" x="918.8" y="59">40</text>
<text class="yt" x="-18" y="15">0</text><text class="yt" x="-18" y="-99.85">5</text><text class="yt" x="-18" y="-214.7">10</text><text class="yt" x="-18" y="-329.55">15</text><text class="yt" x="-18" y="-444.4">20</text><text class="yt" x="-18" y="-559.25">25</text><text class="yt" x="-18" y="-674.1">30</text><text class="yt" x="-18" y="-788.95">35</text><text class="yt" x="-18" y="-903.8">40</text><text class="yt" x="-18" y="-1018.65">45</text>
<text class="lab" x="516.8" y="116">X(cm)</text>
<text class="lab" transform="translate(-87,-516.8) rotate(-90)">Y(cm)</text>
</g>
</g>

<!-- ===== Plot (d) AD-BI-RRT ===== -->
<g id="plot-d">
<g transform="translate(1532,2430.5) scale(22.95,-22.82)">
<use href="#frame"/>
<use href="#obs"/>
<path class="e" d="M15.28 12.9L16.19 11.18M14.89 3.24L18 1.95M21.46 24.57L22.37 24.64"/>
<path class="em" d="M20 43.6L21.72 42.85M20 43.6L19.77 42.21L19.12 40.19L17.23 37.54L13.72 37.28L13.01 34.3M17.23 37.54L17.49 36.14"/>
<g id="d-nodes" class="n">
<circle cx="23.35" cy="33.55" r=".42"/><circle cx="23.48" cy="32.42" r=".42"/><circle cx="23.28" cy="31.28" r=".42"/><circle cx="23.35" cy="30.15" r=".42"/><circle cx="23.09" cy="29.01" r=".42"/><circle cx="23.02" cy="27.62" r=".42"/><circle cx="23.35" cy="26.58" r=".42"/><circle cx="23.28" cy="25.45" r=".42"/><circle cx="22.37" cy="24.64" r=".42"/><circle cx="21.46" cy="24.57" r=".42"/><circle cx="22.05" cy="23.6" r=".42"/><circle cx="20.97" cy="20.42" r=".42"/><circle cx="19.12" cy="18.57" r=".42"/><circle cx="19.58" cy="16.53" r=".42"/><circle cx="18.34" cy="13.87" r=".42"/><circle cx="16.19" cy="11.18" r=".42"/><circle cx="15.28" cy="12.9" r=".42"/><circle cx="17.56" cy="8.11" r=".42"/><circle cx="16.32" cy="4.93" r=".42"/><circle cx="14.89" cy="3.24" r=".42"/>
</g>
<g id="d-mnodes" class="m">
<circle cx="19.77" cy="42.21" r=".42"/><circle cx="19.67" cy="40.13" r=".42"/><circle cx="19.12" cy="40.19" r=".42"/><circle cx="19.74" cy="36.63" r=".42"/><circle cx="20.16" cy="35.17" r=".42"/><circle cx="20.97" cy="34.04" r=".42"/><circle cx="21.72" cy="42.85" r=".42"/><circle cx="17.23" cy="37.54" r=".42"/><circle cx="13.72" cy="37.28" r=".42"/><circle cx="13.01" cy="34.3" r=".42"/><circle cx="17.49" cy="36.14" r=".42"/><circle cx="17.14" cy="34.75" r=".42"/>
</g>
<path id="d-path" class="p" d="M20 43.6L19.77 42.21L19.67 40.13L19.74 36.63L20.16 35.17L20.97 34.04L23.35 33.55L23.48 32.42L23.28 31.28L23.35 30.15L23.09 29.01L23.02 27.62L23.35 26.58L23.28 25.45L22.37 24.64L22.05 23.6L20.97 20.42L19.12 18.57L19.58 16.53L18.34 13.87L16.19 11.18L17.56 8.11L16.32 4.93L18 1.95"/>
<circle class="goal2" cx="20" cy="43.6" r=".8"/>
<circle class="st" cx="18" cy="1.95" r=".82"/>
</g>
<g class="t" transform="translate(1532,2430.5)">
<text class="xt" x="0" y="59">0</text><text class="xt" x="229.5" y="59">10</text><text class="xt" x="459" y="59">20</text><text class="xt" x="688.5" y="59">30</text><text class="xt" x="918" y="59">40</text>
<text class="yt" x="-18" y="15">0</text><text class="yt" x="-18" y="-99.1">5</text><text class="yt" x="-18" y="-213.2">10</text><text class="yt" x="-18" y="-327.3">15</text><text class="yt" x="-18" y="-441.4">20</text><text class="yt" x="-18" y="-555.5">25</text><text class="yt" x="-18" y="-669.6">30</text><text class="yt" x="-18" y="-783.7">35</text><text class="yt" x="-18" y="-897.8">40</text><text class="yt" x="-18" y="-1011.9">45</text>
<text class="lab" x="516.4" y="116">X(cm)</text>
<text class="lab" transform="translate(-87,-513.5) rotate(-90)">Y(cm)</text>
</g>
</g>

<!-- captions -->
<g id="captions" class="cap">
<text x="489" y="1333" xml:space="preserve">(a)  RRT*</text>
<text x="1704" y="1333">(b)Improved BI-RRT*</text>
<text x="464" y="2684">(c) APF-RRT*</text>
<text x="1797" y="2684">(d) AD-BI-RRT</text>
</g>
</svg>
